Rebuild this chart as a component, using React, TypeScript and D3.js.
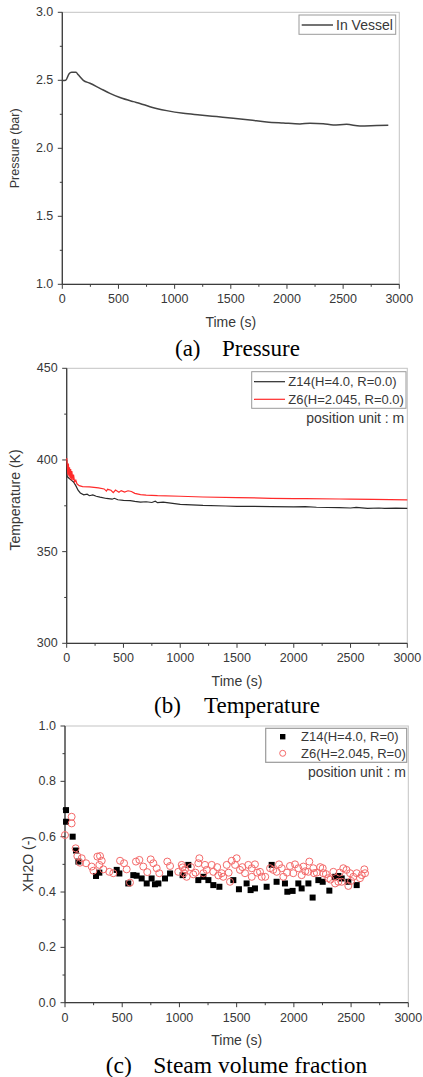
import React from "react";
import * as d3 from "d3";

// ---------- DATA ----------
const pressureTime = [0, 30, 59, 83, 122, 142, 187, 246, 335, 424, 513, 632, 691, 780, 929, 1077, 1225, 1374, 1522, 1671, 1819, 1967, 2116, 2205, 2323, 2412, 2531, 2650, 2798, 2902];
const pressureVal = [2.498, 2.5, 2.547, 2.559, 2.559, 2.54, 2.5, 2.478, 2.441, 2.404, 2.373, 2.343, 2.33, 2.306, 2.277, 2.257, 2.245, 2.233, 2.221, 2.208, 2.194, 2.186, 2.179, 2.184, 2.181, 2.172, 2.176, 2.164, 2.167, 2.169];

const tempZ14Time = [0, 3, 20, 40, 60, 80, 100, 120, 150, 180, 200, 230, 260, 293, 350, 400, 420, 450, 500, 560, 600, 650, 700, 750, 780, 800, 850, 900, 1000, 1100, 1200, 1400, 1500, 1600, 1800, 2000, 2100, 2200, 2400, 2500, 2550, 2650, 2750, 2800, 2900, 3000];
const tempZ14Val = [400, 391, 390, 389, 388, 386, 383.5, 382, 381, 381.3, 380.5, 380.9, 380.2, 379.7, 379.0, 378.6, 379.1, 378.3, 378.0, 377.8, 377.4, 377.0, 377.2, 376.8, 377.5, 376.7, 377.0, 376.6, 375.8, 375.5, 375.2, 374.9, 374.7, 374.7, 374.5, 374.4, 374.5, 374.2, 374.0, 373.8, 374.1, 373.6, 373.8, 373.6, 373.7, 373.6];

const tempZ6Time = [0, 5, 10, 15, 20, 25, 30, 35, 40, 45, 55, 60, 70, 80, 90, 110, 140, 200, 280, 330, 350, 360, 390, 410, 430, 460, 480, 510, 540, 570, 600, 650, 700, 800, 1000, 1200, 1500, 1800, 2000, 2100, 2400, 2500, 2700, 3000];
const tempZ6Val = [401, 397, 392, 398, 391, 396, 390, 395, 389, 394, 389, 392, 388, 389, 387, 386, 385.5, 385.3, 384.8, 384.2, 383, 384, 383.5, 382.2, 383.6, 382.4, 383.3, 382.5, 383.2, 382.8, 381.8, 381.1, 380.8, 380.5, 380.2, 379.8, 379.5, 379.1, 378.9, 378.9, 378.7, 378.6, 378.5, 378.2];

const steamZ14Time = [9, 9, 67, 96, 117, 271, 300, 452, 475, 553, 597, 626, 670, 714, 757, 786, 816, 874, 918, 1028, 1078, 1165, 1209, 1253, 1296, 1349, 1471, 1520, 1587, 1622, 1660, 1762, 1806, 1849, 1922, 1943, 1989, 2039, 2068, 2127, 2164, 2214, 2252, 2310, 2360, 2389, 2418, 2476, 2549];
const steamZ14Val = [0.696, 0.654, 0.6, 0.55, 0.51, 0.458, 0.47, 0.48, 0.467, 0.431, 0.461, 0.459, 0.449, 0.431, 0.449, 0.428, 0.431, 0.449, 0.467, 0.461, 0.498, 0.443, 0.455, 0.443, 0.425, 0.419, 0.443, 0.41, 0.431, 0.407, 0.413, 0.419, 0.498, 0.437, 0.431, 0.401, 0.404, 0.431, 0.413, 0.431, 0.38, 0.443, 0.437, 0.405, 0.455, 0.458, 0.449, 0.437, 0.425];

const steamZ6Time = [0, 58, 58, 93, 108, 131, 146, 184, 233, 248, 283, 300, 306, 321, 335, 387, 422, 481, 516, 539, 568, 620, 650, 684, 719, 749, 772, 801, 824, 894, 918, 990, 1020, 1028, 1040, 1049, 1063, 1100, 1121, 1140, 1165, 1174, 1209, 1223, 1238, 1282, 1296, 1330, 1340, 1369, 1383, 1413, 1430, 1442, 1457, 1486, 1500, 1529, 1550, 1573, 1602, 1632, 1632, 1660, 1680, 1704, 1719, 1750, 1792, 1820, 1850, 1870, 1894, 1908, 1940, 1966, 1995, 2010, 2039, 2068, 2083, 2100, 2126, 2135, 2170, 2176, 2200, 2230, 2252, 2257, 2280, 2301, 2320, 2345, 2360, 2389, 2400, 2418, 2432, 2460, 2476, 2491, 2500, 2519, 2549, 2578, 2593, 2616, 2622];
const steamZ6Val = [0.606, 0.672, 0.648, 0.558, 0.53, 0.506, 0.522, 0.504, 0.492, 0.477, 0.528, 0.498, 0.53, 0.513, 0.482, 0.473, 0.468, 0.513, 0.504, 0.482, 0.434, 0.51, 0.516, 0.492, 0.472, 0.518, 0.504, 0.486, 0.468, 0.51, 0.494, 0.473, 0.498, 0.489, 0.468, 0.482, 0.455, 0.49, 0.464, 0.47, 0.504, 0.522, 0.468, 0.498, 0.48, 0.498, 0.473, 0.49, 0.46, 0.468, 0.455, 0.498, 0.47, 0.437, 0.513, 0.498, 0.522, 0.48, 0.49, 0.468, 0.498, 0.486, 0.455, 0.5, 0.47, 0.473, 0.455, 0.455, 0.486, 0.48, 0.473, 0.5, 0.486, 0.455, 0.47, 0.494, 0.468, 0.5, 0.486, 0.461, 0.492, 0.475, 0.473, 0.51, 0.486, 0.468, 0.47, 0.49, 0.486, 0.468, 0.465, 0.45, 0.445, 0.473, 0.431, 0.437, 0.47, 0.437, 0.486, 0.48, 0.422, 0.468, 0.44, 0.455, 0.468, 0.45, 0.461, 0.482, 0.468];

const xTicks = [0, 500, 1000, 1500, 2000, 2500, 3000];
const pressureTicks = [1.0, 1.5, 2.0, 2.5, 3.0];
const tempTicks = [300, 350, 400, 450];
const steamTicks = [0.0, 0.2, 0.4, 0.6, 0.8, 1.0];

// ---------- STYLE ----------
const SANS = "'Liberation Sans', Arial, sans-serif";
const SERIF = "'Liberation Serif', 'Times New Roman', serif";
const TXT = "#383838";
const AX = "#3c3c3c";

type Box = { l: number; r: number; t: number; b: number };

function Frame(props: {
  box: Box;
  x: d3.ScaleLinear<number, number>;
  y: d3.ScaleLinear<number, number>;
  yTicks: number[];
  yFmt: (v: number) => string;
  yTitle: string;
  yTitleX: number;
  yTitleY: number;
  yTitleSize: number;
}) {
  const { box, x, y, yTicks, yFmt } = props;
  const xMinor = d3.range(xTicks[0], xTicks[xTicks.length - 1], (xTicks[1] - xTicks[0]) / 2).filter((v) => !xTicks.includes(v));
  const yStep = (yTicks[1] - yTicks[0]) / 2;
  const yMinor = yTicks.slice(0, -1).map((v) => v + yStep);
  return (
    <g>
      <rect x={box.l} y={box.t} width={box.r - box.l} height={box.b - box.t} fill="none" stroke="#c4c4c4" strokeWidth={1} />
      <line x1={box.l} x2={box.l} y1={box.t} y2={box.b} stroke={AX} strokeWidth={1.3} />
      <line x1={box.l} x2={box.r} y1={box.b} y2={box.b} stroke={AX} strokeWidth={1.3} />
      {xTicks.map((v) => (
        <g key={"xt" + v}>
          <line x1={x(v)} x2={x(v)} y1={box.b} y2={box.b + 4.5} stroke={AX} strokeWidth={1} />
          <text x={x(v)} y={box.b + 15} textAnchor="middle" dominantBaseline="central" fontFamily={SANS} fontSize={12.5} fill={TXT}>
            {v}
          </text>
        </g>
      ))}
      {xMinor.map((v) => (
        <line key={"xm" + v} x1={x(v)} x2={x(v)} y1={box.b} y2={box.b + 2.5} stroke={AX} strokeWidth={1} />
      ))}
      {yTicks.map((v) => (
        <g key={"yt" + v}>
          <line x1={box.l - 4.5} x2={box.l} y1={y(v)} y2={y(v)} stroke={AX} strokeWidth={1} />
          <text x={box.l - 9} y={y(v)} textAnchor="end" dominantBaseline="central" fontFamily={SANS} fontSize={12.5} fill={TXT}>
            {yFmt(v)}
          </text>
        </g>
      ))}
      {yMinor.map((v) => (
        <line key={"ym" + v} x1={box.l - 2.5} x2={box.l} y1={y(v)} y2={y(v)} stroke={AX} strokeWidth={1} />
      ))}
      <text x={(box.l + box.r) / 2} y={box.b + 37.5} textAnchor="middle" dominantBaseline="central" fontFamily={SANS} fontSize={14} fill={TXT}>
        Time (s)
      </text>
      <text
        transform={`translate(${props.yTitleX},${props.yTitleY}) rotate(-90)`}
        textAnchor="middle"
        dominantBaseline="central"
        fontFamily={SANS}
        fontSize={props.yTitleSize}
        fill={TXT}
      >
        {props.yTitle}
      </text>
    </g>
  );
}

export default function App() {
  const f1 = d3.format(".1f");
  const fi = d3.format("d");

  // Chart (a)
  const bA: Box = { l: 62.3, r: 399.3, t: 12.3, b: 284.3 };
  const xA = d3.scaleLinear().domain([0, 3000]).range([bA.l, bA.r]);
  const yA = d3.scaleLinear().domain([1, 3]).range([bA.b, bA.t]);
  const lineA = d3
    .line<number>()
    .x((_, i) => xA(pressureTime[i]))
    .y((d) => yA(d))
    .curve(d3.curveMonotoneX);

  // Chart (b)
  const bB: Box = { l: 66.7, r: 407.3, t: 368.3, b: 643.3 };
  const xB = d3.scaleLinear().domain([0, 3000]).range([bB.l, bB.r]);
  const yB = d3.scaleLinear().domain([300, 450]).range([bB.b, bB.t]);
  const lineZ14 = d3
    .line<number>()
    .x((_, i) => xB(tempZ14Time[i]))
    .y((d) => yB(d));
  const lineZ6 = d3
    .line<number>()
    .x((_, i) => xB(tempZ6Time[i]))
    .y((d) => yB(d));

  // Chart (c)
  const bC: Box = { l: 65, r: 408.3, t: 726, b: 1002.7 };
  const xC = d3.scaleLinear().domain([0, 3000]).range([bC.l, bC.r]);
  const yC = d3.scaleLinear().domain([0, 1]).range([bC.b, bC.t]);

  const RED = "#ff2a2a";
  const CIRC = "#f46a6a";
  const sq = 6;

  return (
    <svg width={423} height={1077} style={{ position: "absolute", left: 0, top: 0, background: "#fff" }}>
      <rect x={0} y={0} width={423} height={1077} fill="#fff" />

      {/* ---------- (a) Pressure ---------- */}
      <Frame box={bA} x={xA} y={yA} yTicks={pressureTicks} yFmt={f1} yTitle="Pressure (bar)" yTitleX={15.3} yTitleY={148.3} yTitleSize={12.5} />
      <path d={lineA(pressureVal) || ""} fill="none" stroke="#444" strokeWidth={1.5} />
      <g>
        <rect x={299} y={15} width={96.7} height={19.3} fill="#fff" stroke="#9a9a9a" strokeWidth={1} />
        <line x1={301.7} x2={333} y1={25} y2={25} stroke="#444" strokeWidth={1.5} />
        <text x={336} y={25} dominantBaseline="central" fontFamily={SANS} fontSize={14} fill={TXT}>
          In Vessel
        </text>
      </g>
      <text x={175} y={356} fontFamily={SERIF} fontSize={23} fill="#000">(a)</text>
      <text x={222} y={356} fontFamily={SERIF} fontSize={23} fill="#000">Pressure</text>

      {/* ---------- (b) Temperature ---------- */}
      <Frame box={bB} x={xB} y={yB} yTicks={tempTicks} yFmt={fi} yTitle="Temperature (K)" yTitleX={15} yTitleY={500} yTitleSize={14} />
      <path d={lineZ14(tempZ14Val) || ""} fill="none" stroke="#2a2a2a" strokeWidth={1.2} />
      <path d={lineZ6(tempZ6Val) || ""} fill="none" stroke={RED} strokeWidth={1.2} />
      <g>
        <rect x={251.7} y={371.7} width={154.3} height={36.6} fill="#fff" stroke="#9a9a9a" strokeWidth={1} />
        <line x1={254} x2={285} y1={381.7} y2={381.7} stroke="#2a2a2a" strokeWidth={1.2} />
        <text x={288.3} y={381.7} dominantBaseline="central" fontFamily={SANS} fontSize={13} fill={TXT}>
          Z14(H=4.0, R=0.0)
        </text>
        <line x1={254} x2={285} y1={399.3} y2={399.3} stroke={RED} strokeWidth={1.2} />
        <text x={288.3} y={399.3} dominantBaseline="central" fontFamily={SANS} fontSize={13} fill={TXT}>
          Z6(H=2.045, R=0.0)
        </text>
        <text x={404.3} y={418.3} textAnchor="end" dominantBaseline="central" fontFamily={SANS} fontSize={14} fill={TXT}>
          position unit : m
        </text>
      </g>
      <text x={154} y={712.5} fontFamily={SERIF} fontSize={23} fill="#000">(b)</text>
      <text x={204} y={712.5} fontFamily={SERIF} fontSize={23} fill="#000">Temperature</text>

      {/* ---------- (c) Steam volume fraction ---------- */}
      <Frame box={bC} x={xC} y={yC} yTicks={steamTicks} yFmt={f1} yTitle="XH2O (-)" yTitleX={28} yTitleY={864} yTitleSize={14} />
      <g>
        {steamZ14Val.map((v, i) => (
          <rect key={"s14" + i} x={xC(steamZ14Time[i]) - sq / 2} y={yC(v) - sq / 2} width={sq} height={sq} fill="#000" />
        ))}
        {steamZ6Val.map((v, i) => (
          <circle key={"s6" + i} cx={xC(steamZ6Time[i])} cy={yC(v)} r={3.5} fill="none" stroke={CIRC} strokeWidth={1} />
        ))}
      </g>
      <g>
        <rect x={265.7} y={728.3} width={141} height={34} fill="#fff" stroke="#9a9a9a" strokeWidth={1.2} />
        <rect x={282.7 - 2.7} y={736.7 - 2.7} width={5.4} height={5.4} fill="#000" />
        <text x={301} y={736.7} dominantBaseline="central" fontFamily={SANS} fontSize={13} fill={TXT}>
          Z14(H=4.0, R=0)
        </text>
        <circle cx={282.7} cy={753.3} r={3} fill="none" stroke={CIRC} strokeWidth={1} />
        <text x={301} y={753.3} dominantBaseline="central" fontFamily={SANS} fontSize={13} fill={TXT}>
          Z6(H=2.045, R=0)
        </text>
        <text x={406} y={771.7} textAnchor="end" dominantBaseline="central" fontFamily={SANS} fontSize={14} fill={TXT}>
          position unit : m
        </text>
      </g>
      <text x={105.7} y={1073} fontFamily={SERIF} fontSize={23.5} fill="#000">(c)</text>
      <text x={153.3} y={1073} fontFamily={SERIF} fontSize={23.5} fill="#000">Steam volume fraction</text>
    </svg>
  );
}
